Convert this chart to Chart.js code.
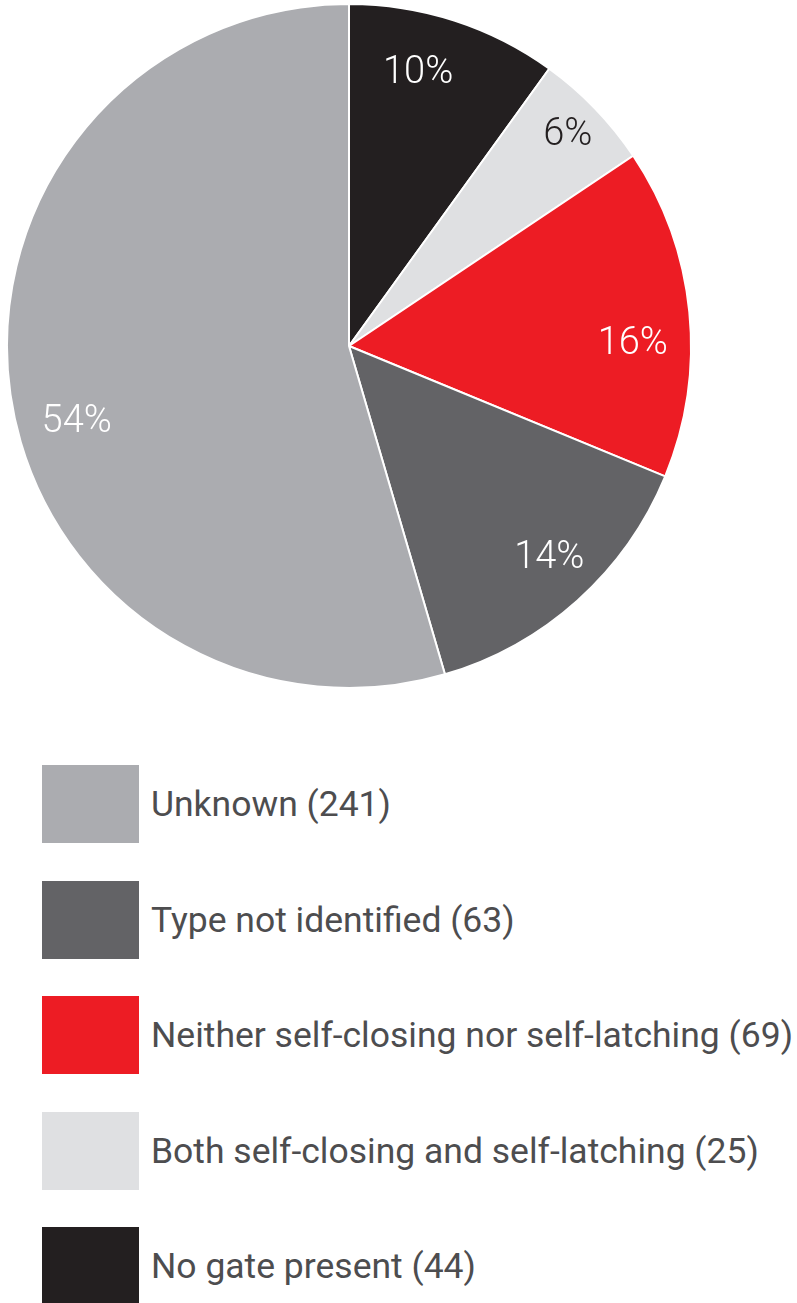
<!DOCTYPE html>
<html>
<head>
<meta charset="utf-8">
<script src="https://cdn.jsdelivr.net/npm/chart.js@4"></script>
<style>
  body { margin: 0; background: #fff; font-family: Roboto, "Noto Sans", sans-serif; }
  #wrap { position: relative; width: 797px; height: 692px; }
  #legend { position: absolute; left: 0; top: 0; width: 797px; }
  .item { position: absolute; left: 42px; height: 78px; display: flex; align-items: center; }
  .box { width: 97px; height: 78px; flex: none; }
  .txt { margin-left: 12px; font-size: 35.5px; color: #4d4d4f; white-space: nowrap; }
</style>
</head>
<body>
<div id="wrap"><canvas id="pie"></canvas></div>
<div id="legend"></div>
<script>
// clockwise from 12 o'clock
const categories = ['No gate present', 'Both self-closing and self-latching', 'Neither self-closing nor self-latching', 'Type not identified', 'Unknown'];
const counts = [44, 25, 69, 63, 241];
const percentLabels = ['10%', '6%', '16%', '14%', '54%'];
const colors = ['#231f20', '#dfe0e2', '#ed1c24', '#636366', '#abacb0'];
const labelColors = ['#fff', '#231f20', '#fff', '#fff', '#fff'];

// small nudges so labels sit where the original has them
const labelNudge = [[-18, -5], [15, -16], [2, 25], [11, 0], [8, 34]];

const pieLabels = {
    id: 'pieLabels',
    afterDatasetsDraw(chart) {
        const ctx = chart.ctx;
        const arcs = chart.getDatasetMeta(0).data;
        ctx.save();
        ctx.font = '300 38px Roboto';
        ctx.textAlign = 'center';
        ctx.textBaseline = 'middle';
        arcs.forEach((arc, i) => {
            const p = arc.getProps(['x', 'y', 'startAngle', 'endAngle', 'outerRadius'], true);
            const mid = (p.startAngle + p.endAngle) / 2;
            const r = p.outerRadius * 0.828;
            ctx.fillStyle = labelColors[i];
            ctx.fillText(percentLabels[i],
                p.x + Math.cos(mid) * r + labelNudge[i][0],
                p.y + Math.sin(mid) * r + labelNudge[i][1] + 2);
        });
        ctx.restore();
    }
};

new Chart(document.getElementById('pie'), {
    type: 'pie',
    data: {
        labels: categories,
        datasets: [{
            data: counts,
            backgroundColor: colors,
            borderColor: '#fff',
            borderWidth: 2
        }]
    },
    options: {
        responsive: true,
        maintainAspectRatio: false,
        animation: false,
        layout: { padding: { left: 3, right: 102, top: 3, bottom: 3 } },
        plugins: {
            legend: { display: false },
            tooltip: { enabled: false }
        }
    },
    plugins: [pieLabels]
});

// legend listed bottom-up relative to the pie order
const legendTops = [765, 881, 996, 1112, 1227];
const legend = document.getElementById('legend');
for (let k = 0; k < categories.length; k++) {
    const i = categories.length - 1 - k;
    const item = document.createElement('div');
    item.className = 'item';
    item.style.top = legendTops[k] + 'px';
    item.innerHTML = '<div class="box" style="background:' + colors[i] + '"></div>' +
        '<div class="txt">' + categories[i] + ' (' + counts[i] + ')</div>';
    legend.appendChild(item);
}
</script>
</body>
</html>
